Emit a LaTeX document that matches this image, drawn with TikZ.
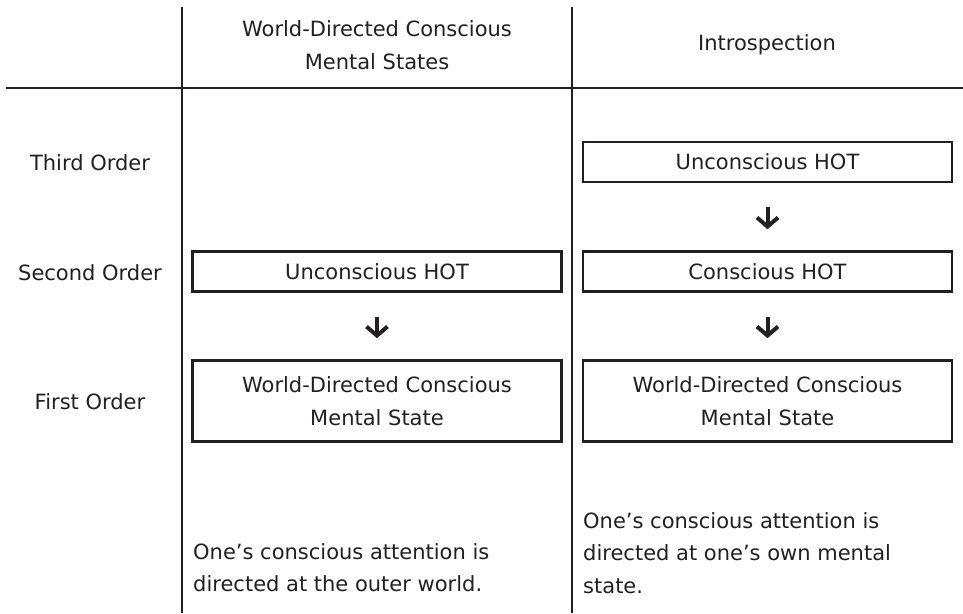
\documentclass[tikz,border=0pt]{standalone}
\usepackage{fontspec}
\setmainfont{DejaVu Sans}
\usetikzlibrary{arrows.meta}
\definecolor{ink}{HTML}{231F20}
\begin{document}
\begin{tikzpicture}[x=1pt,y=-1pt,
  every node/.style={font=\fontsize{21}{32.5}\selectfont, text=ink, inner sep=0pt},
  rule/.style={draw=ink, line width=2pt},
  hotbox/.style={draw=ink, line width=2.6pt, minimum width=369pt, minimum height=40pt},
  statebox/.style={draw=ink, line width=2.6pt, minimum width=369pt, minimum height=81pt, align=center},
  downarrow/.style={draw=ink, line width=4pt, -{Straight Barb[length=9pt,width=21pt,line width=4pt]}, shorten <=24pt, shorten >=21pt},
  label/.style={align=center},
  note/.style={align=left, anchor=north west}]
\useasboundingbox (0,0) rectangle (963,613);
% grid lines
\coordinate (v1t) at (182,7);
\coordinate (v1b) at (182,613);
\coordinate (v2t) at (572,7);
\coordinate (v2b) at (572,613);
\coordinate (hl) at (6,88);
\coordinate (hr) at (963,88);
\draw[rule] (v1t) -- (v1b);
\draw[rule] (v2t) -- (v2b);
\draw[rule] (hl) -- (hr);
% headers
\node[label] (h1) at (377,45) {World-Directed Conscious\\Mental States};
\node[label] (h2) at (767,45) {Introspection};
% row labels
\node (r3) at (90,163) {Third Order};
\node (r2) at (90,273) {Second Order};
\node (r1) at (90,402) {First Order};
% left column
\node[hotbox] (l2) at (377,271.5) {Unconscious HOT};
\node[statebox] (l1) at (377,401) {World-Directed Conscious\\Mental State};
% right column
\node[hotbox] (q3) at (767.5,162) {Unconscious HOT};
\node[hotbox] (q2) at (767.5,271.5) {Conscious HOT};
\node[statebox] (q1) at (767.5,401) {World-Directed Conscious\\Mental State};
% arrows
\draw[downarrow] (l2.south) -- (l1.north);
\draw[downarrow] (q3.south) -- (q2.north);
\draw[downarrow] (q2.south) -- (q1.north);
% notes
\node[note] (n1) at (193,543) {One’s conscious attention is\\directed at the outer world.};
\node[note] (n2) at (583,512) {One’s conscious attention is\\directed at one’s own mental\\state.};
\end{tikzpicture}
\end{document}
